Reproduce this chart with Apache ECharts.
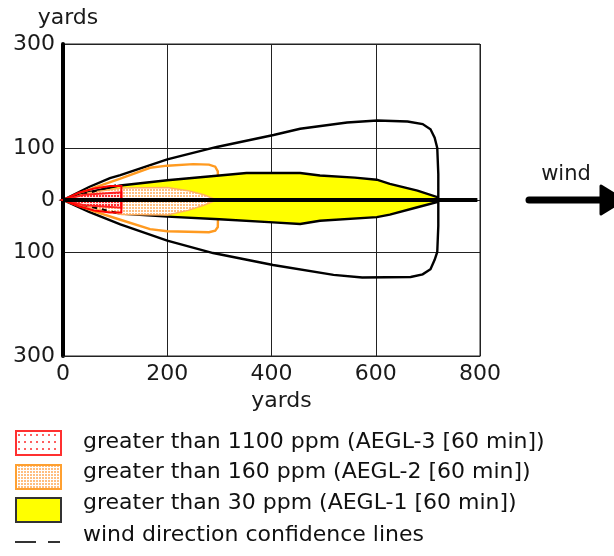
<!DOCTYPE html>
<html>
<head>
<meta charset="utf-8">
<script src="https://cdn.jsdelivr.net/npm/echarts@6/dist/echarts.min.js"></script>
<style>
html,body{margin:0;padding:0;background:#fff;}
#chart{width:614px;height:556px;}
</style>
</head>
<body>
<div id="chart"></div>
<script>
// ---- data (yards) ----
const xTicks = [0, 200, 400, 600, 800];
const yTickValues = [300, 100, 0, -100, -300];

// wind direction confidence contour (AEGL-1)
const confidenceContour = [
  [0,0],[50,25],[90,42],[110,48],[200,78],[295,102],[404,125],[455,137],[545,149],
  [603,153],[661,151],[690,146],[705,136],[713,120],[718,100],[720,50],[720,0],
  [720,-50],[718,-100],[713,-115],[705,-133],[690,-143],[667,-148],[574,-149],
  [519,-144],[403,-125],[288,-102],[200,-78],[110,-47],[50,-23],[0,0]
];
// AEGL-2 confidence contour (orange outline)
const aegl2Contour = [
  [0,0],[60,24],[110,41],[167,62],[200,66],[250,69],[280,68],[292,64],[297,55],[298,0],
  [297,-52],[292,-59],[280,-62],[200,-60],[167,-56],[110,-38],[60,-22],[0,0]
];
// AEGL-1 footprint (yellow)
const aegl1Zone = [
  [0,0],[50,15],[110,28],[200,38],[300,47],[352,52],[455,52],[493,47],[560,43],
  [602,39],[627,31],[680,18],[717,6],[720,0],[717,-4],[680,-14],[627,-28],[602,-33],
  [493,-40],[455,-46],[403,-43],[300,-37],[200,-32],[110,-26],[50,-12],[0,0]
];
// AEGL-2 footprint (orange dots)
const aegl2Zone = [
  [0,0],[50,14],[112,23],[200,24],[240,18],[270,10],[295,0],[270,-10],[240,-20],
  [200,-29],[112,-28],[50,-14],[0,0]
];
// AEGL-3 confidence contour (red outline)
const aegl3Contour = [
  [0,0],[30,14],[60,22],[90,27],[112,27],[112,-24],[90,-24],[60,-20],[30,-12],[0,0]
];
// AEGL-3 footprint (red dots)
const aegl3Zone = [
  [0,0],[40,10],[112,15],[112,-15],[40,-10],[0,0]
];
// AEGL-3 confidence lines (dashed)
const aegl3ConfUpper = [[0,0],[108,30]];
const aegl3ConfLower = [[0,0],[108,-26]];
// downwind center line
const windLine = [[0,0],[795,0]];

const legendItems = [
  'greater than 1100 ppm (AEGL-3 [60 min])',
  'greater than 160 ppm (AEGL-2 [60 min])',
  'greater than 30 ppm (AEGL-1 [60 min])',
  'wind direction confidence lines'
];

// ---- patterns ----
function makePattern(bg, dot, w, h, dw, dh) {
  const c = document.createElement('canvas');
  c.width = w; c.height = h;
  const ctx = c.getContext('2d');
  ctx.fillStyle = bg; ctx.fillRect(0, 0, w, h);
  ctx.fillStyle = dot; ctx.fillRect(0, 0, dw, dh);
  return c;
}
const orangePat = makePattern('#ffffff', '#ffbe80', 3, 3, 2, 2);
const redPat = makePattern('#ffe0e0', '#ff3030', 3, 3, 2, 2);
const redLegendPat = makePattern('#ffffff', '#ff6060', 6, 7, 2, 2);

const FONT = 'DejaVu Sans';
const FS = 22;

function polySeries(pts, style, z) {
  return {
    type: 'custom',
    coordinateSystem: 'cartesian2d',
    data: pts,
    encode: { x: 0, y: 1 },
    z: z,
    silent: true,
    renderItem: function (params, api) {
      if (params.dataIndex !== 0) return;
      const points = pts.map(p => api.coord(p));
      return { type: 'polygon', shape: { points: points }, style: style };
    }
  };
}

const chart = echarts.init(document.getElementById('chart'), null, { renderer: 'canvas' });

const legendGraphics = [];
const rowY = [442, 472, 503, 535];
legendGraphics.push({ type: 'rect', shape: { x: 16, y: 431, width: 45, height: 24 },
  style: { fill: { image: redLegendPat, repeat: 'repeat' }, stroke: '#ff3030', lineWidth: 2 } });
legendGraphics.push({ type: 'rect', shape: { x: 16, y: 465, width: 45, height: 24 },
  style: { fill: { image: orangePat, repeat: 'repeat' }, stroke: '#ffa030', lineWidth: 2 } });
legendGraphics.push({ type: 'rect', shape: { x: 16, y: 498, width: 45, height: 24 },
  style: { fill: '#ffff00', stroke: '#333', lineWidth: 2 } });
legendGraphics.push({ type: 'line', shape: { x1: 15, y1: 542, x2: 36, y2: 542 },
  style: { stroke: '#333', lineWidth: 2 } });
legendGraphics.push({ type: 'line', shape: { x1: 48, y1: 542, x2: 60, y2: 542 },
  style: { stroke: '#333', lineWidth: 2 } });
legendItems.forEach((t, i) => {
  legendGraphics.push({ type: 'text', x: 83, y: rowY[i],
    style: { text: t, fill: '#111', font: FS + 'px "' + FONT + '"', textVerticalAlign: 'middle', textAlign: 'left' } });
});
// wind arrow
legendGraphics.push({ type: 'text', x: 566, y: 175,
  style: { text: 'wind', fill: '#1a1a1a', font: '21px "' + FONT + '"', textAlign: 'center', textVerticalAlign: 'middle' } });
legendGraphics.push({ type: 'line', shape: { x1: 529, y1: 200, x2: 604, y2: 200 },
  style: { stroke: '#000', lineWidth: 7, lineCap: 'round' } });
legendGraphics.push({ type: 'polygon', shape: { points: [[601, 186], [601, 214], [624, 200]] },
  style: { fill: '#000', stroke: '#000', lineWidth: 3, lineJoin: 'round' } });

const yLabelSet = new Set(yTickValues);

chart.setOption({
  animation: false,
  backgroundColor: '#fff',
  grid: { left: 63, right: 134, top: 44, bottom: 200, show: true, borderColor: '#222', borderWidth: 1, containLabel: false },
  xAxis: {
    type: 'value', min: xTicks[0], max: xTicks[xTicks.length - 1], interval: 200,
    name: 'yards', nameLocation: 'middle', nameGap: 33,
    nameTextStyle: { color: '#1a1a1a', fontSize: FS, fontFamily: FONT, padding: [0, 0, 0, 20] },
    axisLine: { show: true, onZero: false, lineStyle: { color: '#222', width: 1 } },
    axisTick: { show: false },
    axisLabel: { color: '#1a1a1a', fontSize: FS, fontFamily: FONT, margin: 7 },
    splitLine: { show: true, lineStyle: { color: '#222', width: 1 } }
  },
  yAxis: {
    type: 'value', min: -300, max: 300, interval: 100,
    name: 'yards', nameLocation: 'end', nameGap: 15,
    nameTextStyle: { color: '#1a1a1a', fontSize: FS, fontFamily: FONT, align: 'center', padding: [0, 0, 0, 10] },
    axisLine: { show: true, onZero: false, lineStyle: { color: '#000', width: 4 } },
    axisTick: { show: false },
    axisLabel: { color: '#1a1a1a', fontSize: FS, fontFamily: FONT, margin: 8,
      formatter: v => yLabelSet.has(v) ? String(Math.abs(v)) : '' },
    splitLine: { show: true, showMinLine: true, showMaxLine: true,
      lineStyle: { color: ['#222', 'rgba(0,0,0,0)', '#222', '#222', '#222', 'rgba(0,0,0,0)', '#222'], width: 1 } }
  },
  graphic: legendGraphics,
  series: [
    polySeries(confidenceContour, { fill: 'none', stroke: '#000', lineWidth: 2.4 }, 2),
    polySeries(aegl2Contour, { fill: 'none', stroke: '#ff9a20', lineWidth: 2.4 }, 3),
    polySeries(aegl1Zone, { fill: '#ffff00', stroke: '#000', lineWidth: 2.4 }, 4),
    polySeries(aegl2Zone, { fill: { image: orangePat, repeat: 'repeat' }, stroke: '#ffb060', lineWidth: 1.5 }, 5),
    {
      type: 'line', data: aegl3ConfUpper, z: 6, symbol: 'none', silent: true,
      lineStyle: { color: '#000', width: 2, type: [5, 5] }
    },
    {
      type: 'line', data: aegl3ConfLower, z: 6, symbol: 'none', silent: true,
      lineStyle: { color: '#000', width: 2, type: [5, 5] }
    },
    polySeries(aegl3Zone, { fill: { image: redPat, repeat: 'repeat' }, stroke: '#ff2020', lineWidth: 2 }, 7),
    polySeries(aegl3Contour, { fill: 'none', stroke: '#ff0000', lineWidth: 2 }, 8),
    {
      type: 'line', data: windLine, z: 9, symbol: 'none', silent: true,
      lineStyle: { color: '#000', width: 4 }
    }
  ]
});
</script>
</body>
</html>
